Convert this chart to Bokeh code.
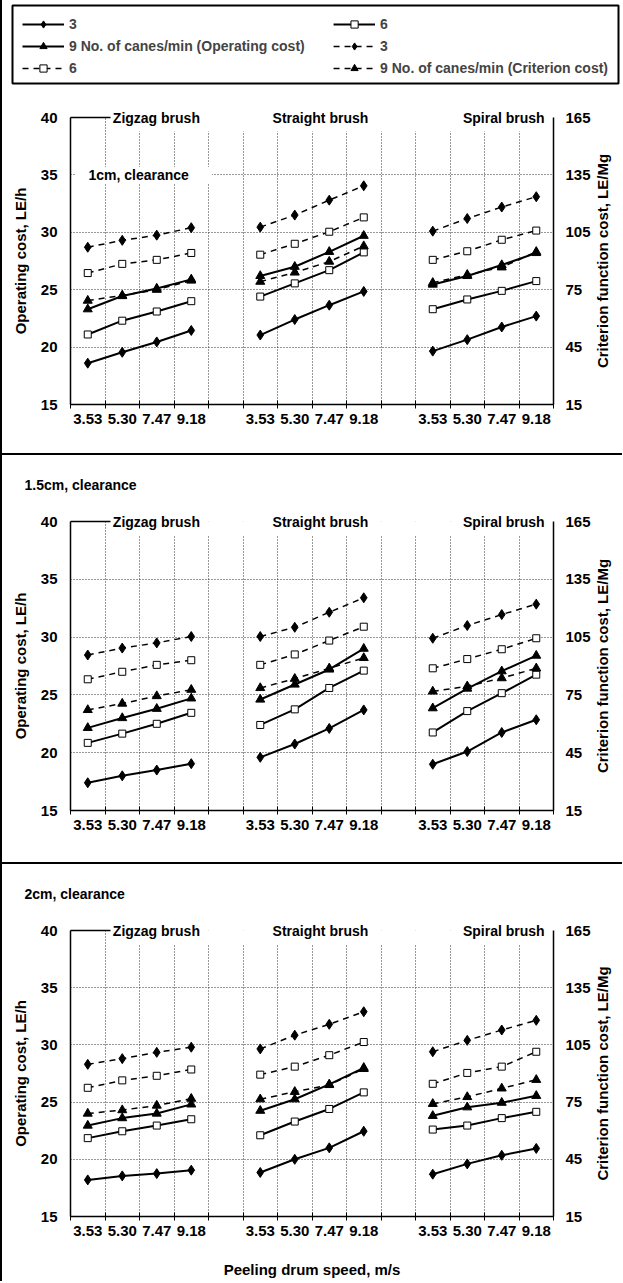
import math
from bokeh.plotting import figure
from bokeh.models import (Range1d, LinearAxis, FixedTicker, Label, BoxAnnotation,
                          Legend, LegendItem, Div)
from bokeh.layouts import column
from bokeh.embed import file_html
from bokeh.resources import INLINE

# ---------------- data ----------------
speeds = ["3.53", "5.30", "7.47", "9.18"]          # peeling drum speed, m/s
brushes = ["Zigzag brush", "Straight brush", "Spiral brush"]
clearances = ["1cm, clearance", "1.5cm, clearance", "2cm, clearance"]
canes = ["3", "6", "9"]                              # No. of canes/min

# Operating cost, LE/h  (Zigzag x4, Straight x4, Spiral x4)
op_1cm_3 = [18.6, 19.55, 20.45, 21.45, 21.05, 22.4, 23.65, 24.85, 19.65, 20.65, 21.75, 22.7]
op_1cm_6 = [21.1, 22.3, 23.1, 24.0, 24.4, 25.55, 26.7, 28.25, 23.3, 24.15, 24.9, 25.75]
op_1cm_9 = [23.3, 24.45, 25.1, 25.9, 26.2, 27.0, 28.3, 29.7, 25.45, 26.2, 27.15, 28.2]
op_15cm_3 = [17.4, 18.0, 18.5, 19.05, 19.6, 20.75, 22.1, 23.7, 19.0, 20.1, 21.75, 22.85]
op_15cm_6 = [20.85, 21.65, 22.5, 23.45, 22.4, 23.75, 25.6, 27.1, 21.75, 23.6, 25.15, 26.75]
op_15cm_9 = [22.15, 23.0, 23.8, 24.7, 24.6, 25.9, 27.2, 29.0, 23.85, 25.55, 27.05, 28.4]
op_2cm_3 = [18.2, 18.55, 18.75, 19.05, 18.85, 20.0, 21.0, 22.45, 18.7, 19.6, 20.35, 20.95]
op_2cm_6 = [21.85, 22.45, 22.95, 23.5, 22.1, 23.3, 24.4, 25.85, 22.6, 22.95, 23.6, 24.15]
op_2cm_9 = [22.95, 23.6, 24.0, 24.8, 24.25, 25.25, 26.55, 28.0, 23.8, 24.55, 24.95, 25.55]

# Criterion function cost, LE/Mg
cr_1cm_3 = [97.2, 100.8, 103.5, 107.4, 107.7, 114.0, 121.8, 129.3, 105.6, 112.2, 118.2, 123.6]
cr_1cm_6 = [83.7, 88.5, 90.6, 94.2, 93.3, 99.0, 105.3, 112.8, 90.6, 95.1, 101.1, 105.9]
cr_1cm_9 = [69.3, 72.0, 75.0, 79.8, 79.2, 84.0, 89.7, 97.8, 78.6, 82.8, 86.7, 94.8]
cr_15cm_3 = [95.7, 99.3, 102.0, 105.3, 105.3, 110.1, 117.9, 125.4, 104.4, 111.0, 116.7, 122.1]
cr_15cm_6 = [83.1, 87.0, 90.6, 93.0, 90.6, 96.0, 103.2, 110.4, 88.8, 93.6, 98.7, 104.4]
cr_15cm_9 = [67.2, 70.5, 74.4, 77.7, 78.6, 83.4, 88.8, 94.2, 76.8, 79.5, 83.7, 88.8]
cr_2cm_3 = [94.8, 97.8, 101.1, 103.8, 102.9, 110.1, 115.8, 122.4, 101.4, 107.4, 112.8, 117.9]
cr_2cm_6 = [82.5, 86.4, 88.8, 92.1, 89.4, 93.6, 99.6, 106.5, 84.6, 90.3, 93.6, 101.4]
cr_2cm_9 = [69.0, 70.8, 73.2, 76.8, 76.5, 80.4, 84.0, 92.4, 74.1, 77.7, 82.2, 86.7]

op_ticks = [15, 20, 25, 30, 35, 40]
cr_ticks = [15, 45, 75, 105, 135, 165]

op_sets = [[op_1cm_3, op_1cm_6, op_1cm_9], [op_15cm_3, op_15cm_6, op_15cm_9], [op_2cm_3, op_2cm_6, op_2cm_9]]
cr_sets = [[cr_1cm_3, cr_1cm_6, cr_1cm_9], [cr_15cm_3, cr_15cm_6, cr_15cm_9], [cr_2cm_3, cr_2cm_6, cr_2cm_9]]

# ---------------- style ----------------
FONT = "Liberation Sans"
FS = "14px"       # legend, brush names, clearance titles
FSA = "15px"      # axis numbers and axis titles
W = 620
NS = len(speeds)
NG = len(brushes)
NCAT = NG * NS + NG - 1           # categories incl. one blank between groups

xpos = list(range(NCAT))
centers = [x for x in xpos if x % (NS + 1) != NS]
bounds = [x - 0.5 for x in range(NCAT + 1)]
label_map = {c: speeds[c % (NS + 1)] for c in centers}
brush_pos = [1.99, 6.745, 12.06]   # label anchor positions along the category axis
RIGHT_TITLE = "Criterion function cost, LE/Mg"

mk = {
    "3": dict(marker="diamond", size=10, fill_color="black"),
    "6": dict(marker="square", size=7, fill_color="white"),
    "9": dict(marker="triangle", size=9, fill_color="black"),
}
DASH = "6 5"


def with_gaps(vals):
    out = []
    for g in range(NG):
        out.extend(vals[g * NS:(g + 1) * NS])
        if g < NG - 1:
            out.append(float("nan"))
    return out


def style_axis(ax, size=FSA):
    ax.major_label_text_font = FONT
    ax.major_label_text_font_size = size
    ax.major_label_text_font_style = "bold"
    ax.major_label_text_color = "black"
    ax.axis_label_text_font = FONT
    ax.axis_label_text_font_size = FSA
    ax.axis_label_text_font_style = "bold"
    ax.axis_label_text_color = "black"
    ax.axis_line_color = "black"
    ax.axis_line_width = 1.5


def bare(ax):
    ax.axis_line_color = None
    ax.major_tick_line_color = None
    ax.minor_tick_line_color = None
    ax.major_tick_in = 0
    ax.major_tick_out = 0


def panel(ci, height, top, frame_h, with_title=False, xlabel=None):
    bottom = height - top - frame_h
    p = figure(width=W, height=height, x_range=Range1d(-0.5, NCAT - 0.5),
               y_range=Range1d(op_ticks[0], op_ticks[-1]),
               output_backend="svg", toolbar_location=None,
               min_border_left=68, min_border_right=66,
               min_border_top=top, min_border_bottom=bottom,
               outline_line_color=None,
               title=(clearances[ci] if with_title else None))
    p.extra_y_ranges = {"crit": Range1d(cr_ticks[0], cr_ticks[-1])}
    ppu = frame_h / (op_ticks[-1] - op_ticks[0])      # pixels per LE/h

    if with_title:
        p.title.text_font = FONT
        p.title.text_font_size = FS
        p.title.text_font_style = "bold"
        p.title.text_color = "black"
        p.title.align = "left"
        p.title.offset = -46
        p.title.standoff = 36

    # grid
    p.xgrid.ticker = FixedTicker(ticks=bounds[1:-1])
    p.ygrid.ticker = FixedTicker(ticks=op_ticks[1:-1])
    for g in (p.xgrid, p.ygrid):
        g.grid_line_color = "#333333"
        g.grid_line_dash = "1 2"
        g.grid_line_width = 1

    # white band below the brush names (hides the grid tops)
    p.add_layout(BoxAnnotation(left=0.65, right=13.4,
                               bottom=op_ticks[-1] - 14 / ppu, top=op_ticks[-1] + 4 / ppu,
                               fill_color="white", fill_alpha=1, line_color=None,
                               level="underlay"))

    # x axis (bottom)
    xa = p.xaxis[0]
    style_axis(xa)
    xa.ticker = FixedTicker(ticks=centers, minor_ticks=bounds)
    xa.major_label_overrides = label_map
    xa.major_tick_line_color = None
    xa.major_tick_in = 0
    xa.major_tick_out = 0
    xa.minor_tick_line_color = "black"
    xa.minor_tick_in = 4
    xa.minor_tick_out = 4
    xa.major_label_standoff = 5
    if xlabel:
        xa.axis_label = xlabel
        xa.axis_label_standoff = 22

    # short top border at the left end of the frame
    seg = LinearAxis(ticker=FixedTicker(ticks=[]), bounds=(-0.5, 0.65))
    style_axis(seg)
    seg.major_tick_line_color = None
    seg.minor_tick_line_color = None
    seg.major_tick_out = 0
    seg.major_label_standoff = 0
    p.add_layout(seg, "above")

    # brush names centred on the top edge
    ta = LinearAxis(ticker=FixedTicker(ticks=brush_pos))
    style_axis(ta, FS)
    bare(ta)
    ta.major_label_standoff = -8
    ta.major_label_overrides = {pos: name for pos, name in zip(brush_pos, brushes)}
    p.add_layout(ta, "above")

    # left axis
    ya = p.yaxis[0]
    style_axis(ya)
    ya.ticker = FixedTicker(ticks=op_ticks)
    ya.major_tick_in = 0
    ya.major_tick_out = 0
    ya.minor_tick_line_color = None
    ya.major_label_standoff = 13
    ya.axis_label = "Operating cost, LE/h"
    ya.axis_label_standoff = 9

    # right axis (criterion cost)
    ra = LinearAxis(y_range_name="crit", ticker=FixedTicker(ticks=cr_ticks))
    style_axis(ra)
    ra.major_tick_in = 0
    ra.major_tick_out = 0
    ra.minor_tick_line_color = None
    ra.major_label_standoff = 12
    p.add_layout(ra, "right")

    # right-axis title, reading bottom-to-top, centred on the frame
    half_len = 14.28 * 15 / 2                         # half the title length in px
    tpos = (op_ticks[0] + op_ticks[-1]) / 2 - half_len / ppu
    rt = LinearAxis(ticker=FixedTicker(ticks=[tpos]))
    style_axis(rt)
    bare(rt)
    rt.major_label_orientation = math.pi / 2
    rt.major_label_overrides = {tpos: RIGHT_TITLE}
    rt.major_label_standoff = 9
    p.add_layout(rt, "right")

    # series
    for key, vals in zip(canes, op_sets[ci]):
        ys = with_gaps(vals)
        p.line(xpos, ys, line_color="black", line_width=2)
        p.scatter(xpos, ys, line_color="black", line_width=1, **mk[key])
    for key, vals in zip(canes, cr_sets[ci]):
        ys = with_gaps(vals)
        p.line(xpos, ys, line_color="black", line_width=1.5, line_dash=DASH, y_range_name="crit")
        p.scatter(xpos, ys, line_color="black", line_width=1, y_range_name="crit", **mk[key])

    if not with_title:
        # title inside the plot at the 35 gridline
        yt = op_ticks[-2]
        p.add_layout(BoxAnnotation(left=-0.36, right=3.6, bottom=yt - 8 / ppu, top=yt + 8 / ppu,
                                   fill_color="white", fill_alpha=1, line_color=None,
                                   level="underlay"))
        p.add_layout(Label(x=0.02, y=yt, text=clearances[ci], text_font=FONT, text_font_size=FS,
                           text_font_style="bold", text_color="black",
                           text_align="left", text_baseline="middle"))
    return p


# ---------------- legend ----------------
# the legend figure's frame is the boxed area at the top
lf = figure(frame_width=606, frame_height=78, x_range=Range1d(0, 1), y_range=Range1d(0, 1),
            output_backend="svg", toolbar_location=None,
            x_axis_type=None, y_axis_type=None,
            min_border_left=10, min_border_right=4, min_border_top=5, min_border_bottom=3,
            outline_line_color=None)
if "frame_align" in lf.properties():
    lf.frame_align = False
    lf.outline_line_color = "black"
    lf.outline_line_width = 2
    lf.outline_line_alpha = 1
lf.xgrid.visible = False
lf.ygrid.visible = False

items = []
for key, vals in zip(canes, op_sets[0]):
    ys = with_gaps(vals)
    rl = lf.line(xpos, ys, line_color="black", line_width=2, visible=False)
    rs = lf.scatter(xpos, ys, line_color="black", line_width=1, visible=False, **mk[key])
    lab = key + (" No. of canes/min (Operating cost)" if key == "9" else "")
    items.append(LegendItem(label=lab, renderers=[rl, rs]))
for key, vals in zip(canes, cr_sets[0]):
    ys = with_gaps(vals)
    rl = lf.line(xpos, ys, line_color="black", line_width=1.5, line_dash=DASH, visible=False)
    rs = lf.scatter(xpos, ys, line_color="black", line_width=1, visible=False, **mk[key])
    lab = key + (" No. of canes/min (Criterion cost)" if key == "9" else "")
    items.append(LegendItem(label=lab, renderers=[rl, rs]))

col_a = [items[0], items[2], items[4]]
col_b = [items[1], items[3], items[5]]
leg_kw = dict(spacing=4, glyph_width=42, glyph_height=18, label_height=18, label_standoff=5,
              label_text_font=FONT, label_text_font_style="bold", label_text_font_size=FS,
              margin=10, padding=0, border_line_color=None, background_fill_alpha=0,
              inactive_fill_alpha=0, click_policy="none")
lf.add_layout(Legend(items=col_a, location="top_left", **leg_kw))
lf.add_layout(Legend(items=col_b, location="top_right", **leg_kw))

# ---------------- panels ----------------
p1 = panel(0, 367, 31, 287)
p2 = panel(1, 407, 66, 289, with_title=True)
p3 = panel(2, 417, 66, 286, with_title=True, xlabel="Peeling drum speed, m/s")


def sep():
    return Div(text="", width=W, height=2, margin=0,
               styles={"background-color": "black", "font-size": "0px", "line-height": "0px"})


layout = column(lf, p1, sep(), p2, sep(), p3, spacing=0,
                styles={"border-left": "2px solid black"})

open("out.html", "w").write(file_html(layout, INLINE))
